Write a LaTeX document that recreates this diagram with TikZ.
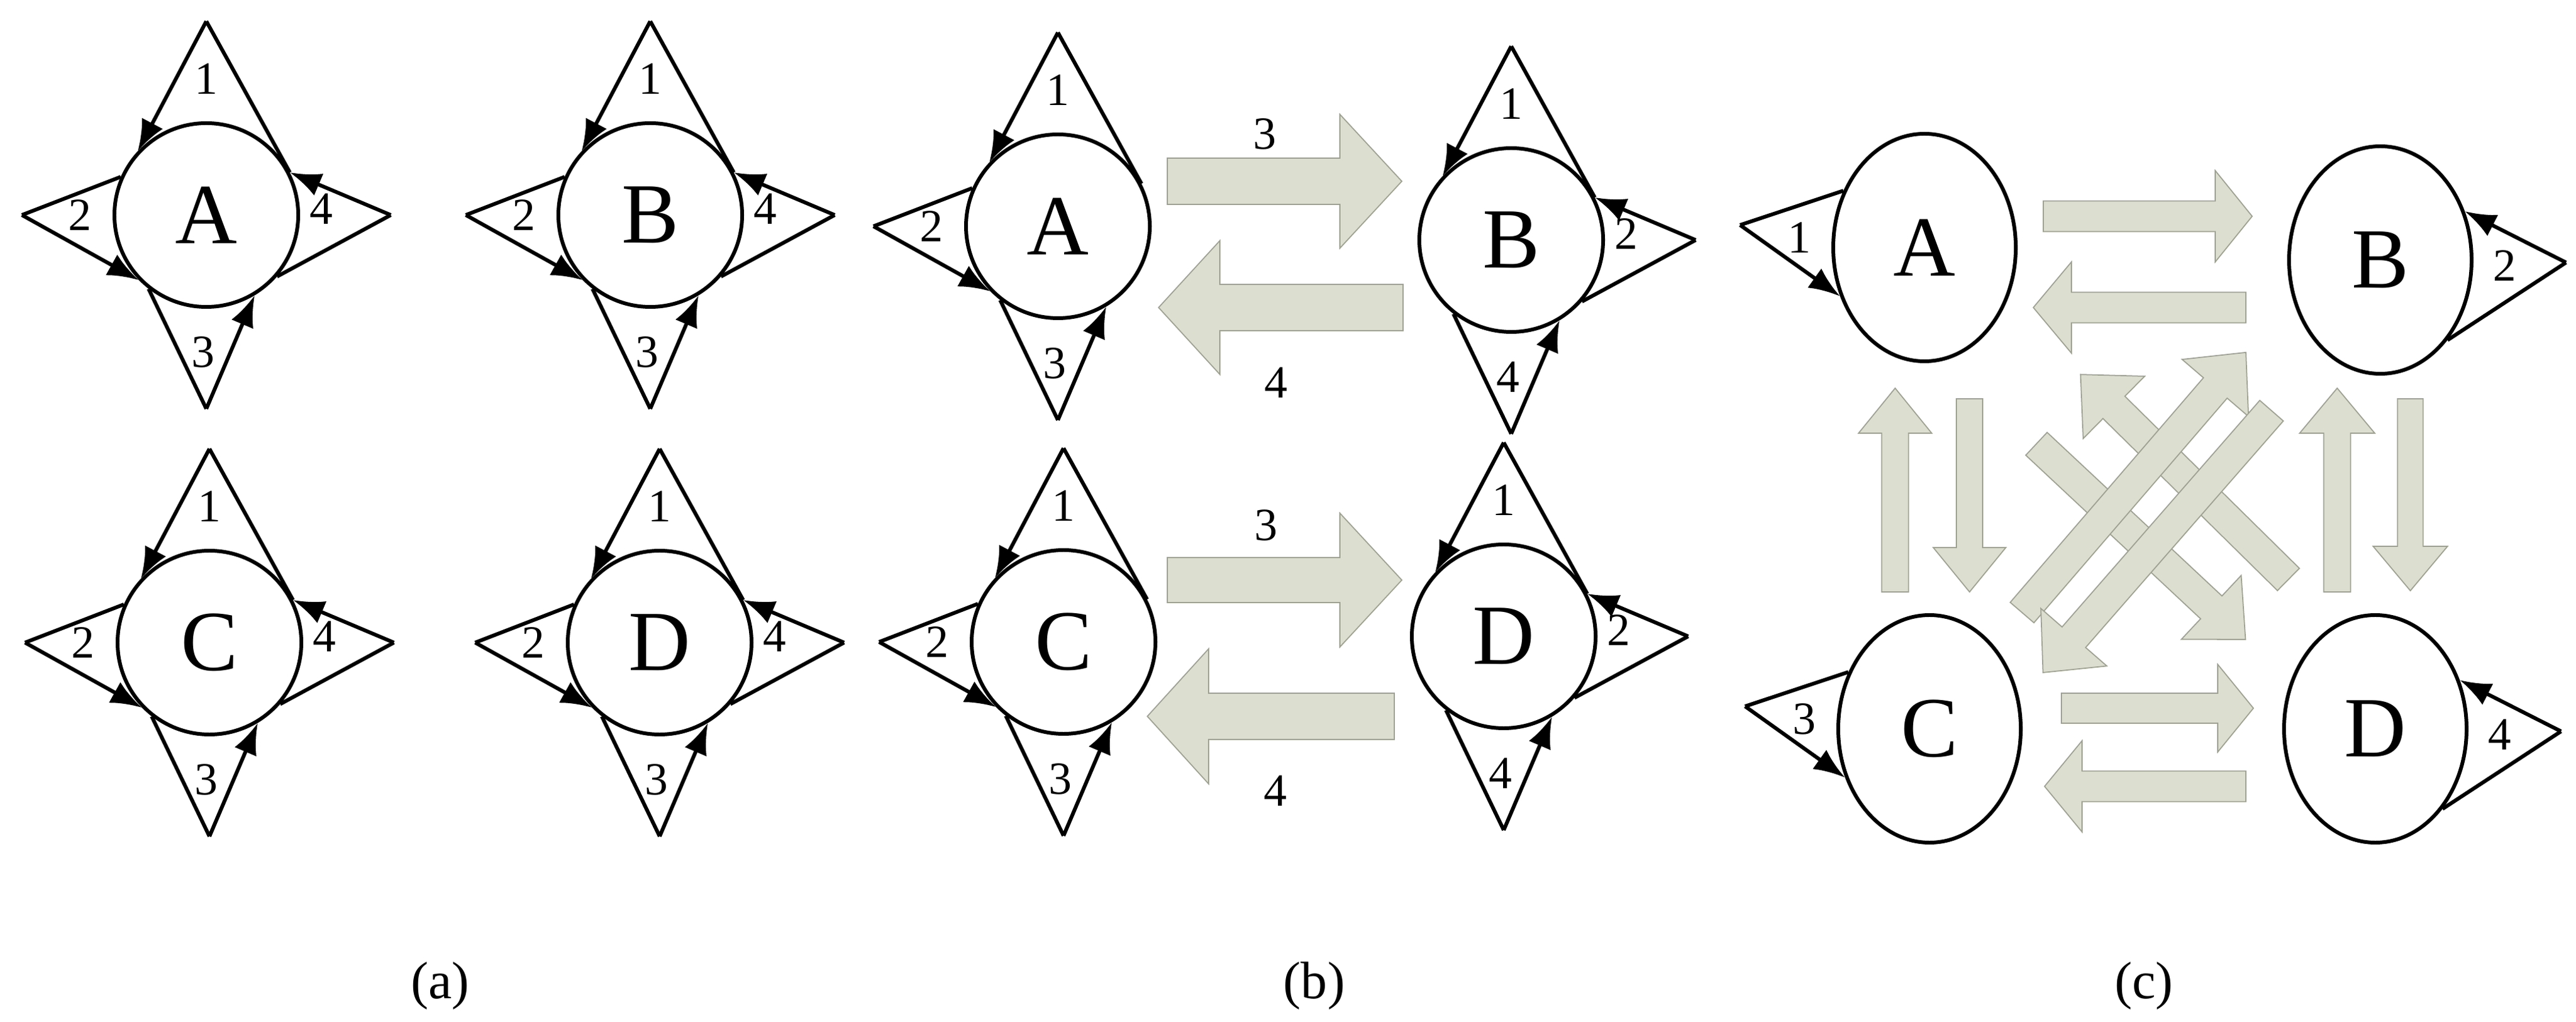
\documentclass[tikz,border=0pt]{standalone}
\usepackage{fontspec}
\setmainfont{Liberation Serif}
\newfontfamily\figfont{Liberation Serif}
\usetikzlibrary{arrows.meta,shapes.geometric}
\definecolor{flowfill}{HTML}{DCDFCF}
\definecolor{flowedge}{HTML}{9FA293}
\tikzset{
  state/.style={circle, draw, line width=1.7pt, minimum size=2.94cm, inner sep=0pt, font=\figfont\fontsize{39}{40}\selectfont},
  ostate/.style={ellipse, draw, line width=1.7pt, minimum width=2.92cm, minimum height=3.64cm, inner sep=0pt, font=\figfont\fontsize{39}{40}\selectfont},
  edge/.style={line width=1.7pt},
  into/.style={edge, -{Latex[length=5mm,width=3.8mm]}},
  num/.style={font=\figfont\fontsize{21}{22}\selectfont},
  flow/.style={fill=flowfill, draw=flowedge, line width=0.5pt}
}
% triangles around a state
\newcommand\toptri[2]{\coordinate (#1-t) at ([yshift=3.1cm]#1.center);
  \draw[into] (#1-t) -- (#1.137); \draw[edge] (#1-t) -- (#1.27);
  \node[num] at ([yshift=2.18cm]#1.center) {#2};}
\newcommand\lefttri[2]{\coordinate (#1-l) at ([xshift=-2.95cm]#1.center);
  \draw[into] (#1-l) -- (#1.-136); \draw[edge] (#1-l) -- (#1.156);
  \node[num] at ([xshift=-2.02cm]#1.center) {#2};}
\newcommand\righttri[2]{\coordinate (#1-r) at ([xshift=2.95cm]#1.center);
  \draw[into] (#1-r) -- (#1.27); \draw[edge] (#1-r) -- (#1.-41);
  \node[num] at ([shift={(1.84,0.1)}]#1.center) {#2};}
\newcommand\bottri[2]{\coordinate (#1-b) at ([yshift=-3.1cm]#1.center);
  \draw[into] (#1-b) -- (#1.-59); \draw[edge] (#1-b) -- (#1.-128);
  \node[num] at ([shift={(-0.05,-2.19)}]#1.center) {#2};}
% self loops of panel (c)
\newcommand\loopL[2]{\coordinate (#1-l) at ([shift={(-2.95,0.36)}]#1.center);
  \draw[into] (#1-l) -- (#1.210); \draw[edge] (#1-l) -- (#1.145);
  \node[num] at ([shift={(-2.0,0.16)}]#1.center) {#2};}
\newcommand\loopR[2]{\coordinate (#1-r) at ([shift={(2.97,-0.04)}]#1.center);
  \draw[into] (#1-r) -- (#1.30); \draw[edge] (#1-r) -- (#1.-50);
  \node[num] at ([shift={(1.99,-0.09)}]#1.center) {#2};}
% block arrow: x, y, angle, length, shaft half, head half, head length
\newcommand\flowarrow[7]{\begin{scope}[shift={(#1,#2)}, rotate=#3]
  \filldraw[flow] (0,-#5) -- ({#4-#7},-#5) -- ({#4-#7},-#6) -- (#4,0)
    -- ({#4-#7},#6) -- ({#4-#7},#5) -- (0,#5) -- cycle;
  \end{scope}}

\begin{document}
\begin{tikzpicture}
\useasboundingbox (0,0) rectangle (41.2,-16.35);

% (a)
\node[state] (aA) at (3.30,-3.44) {A};
\node[state] (aB) at (10.40,-3.44) {B};
\node[state] (aC) at (3.35,-10.28) {C};
\node[state] (aD) at (10.55,-10.28) {D};
\foreach \n in {aA,aB,aC,aD}{
  \toptri{\n}{1} \lefttri{\n}{2} \righttri{\n}{4} \bottri{\n}{3}
}

% (b)
\node[state] (bA) at (16.92,-3.62) {A};
\node[state] (bB) at (24.17,-3.84) {B};
\node[state] (bC) at (17.01,-10.27) {C};
\node[state] (bD) at (24.05,-10.18) {D};
\foreach \n in {bA,bC}{\toptri{\n}{1} \lefttri{\n}{2} \bottri{\n}{3}}
\foreach \n in {bB,bD}{\toptri{\n}{1} \righttri{\n}{2} \bottri{\n}{4}}
\flowarrow{18.67}{-2.90}{0}{3.75}{0.37}{1.07}{0.99}
\flowarrow{22.44}{-4.92}{180}{3.91}{0.37}{1.07}{0.98}
\flowarrow{18.67}{-9.28}{0}{3.75}{0.36}{1.07}{0.99}
\flowarrow{22.30}{-11.46}{180}{3.95}{0.37}{1.08}{0.98}
\node[num] (b3u) at (20.23,-2.14) {3};
\node[num] (b4u) at (20.41,-6.12) {4};
\node[num] (b3d) at (20.25,-8.40) {3};
\node[num] (b4d) at (20.40,-12.65) {4};

% (c)
\node[ostate] (cA) at (30.78,-3.96) {A};
\node[ostate] (cB) at (38.07,-4.16) {B};
\node[ostate] (cC) at (30.86,-11.66) {C};
\node[ostate] (cD) at (37.99,-11.66) {D};
\loopL{cA}{1} \loopR{cB}{2} \loopL{cC}{3} \loopR{cD}{4}
\flowarrow{32.68}{-3.46}{0}{3.34}{0.245}{0.73}{0.59}
\flowarrow{35.92}{-4.92}{180}{3.40}{0.245}{0.73}{0.61}
\flowarrow{32.97}{-11.33}{0}{3.07}{0.24}{0.70}{0.57}
\flowarrow{35.92}{-12.58}{180}{3.22}{0.245}{0.73}{0.60}
\flowarrow{30.31}{-9.47}{90}{3.26}{0.215}{0.585}{0.72}
\flowarrow{31.50}{-6.38}{-90}{3.09}{0.21}{0.58}{0.71}
\flowarrow{37.38}{-9.47}{90}{3.26}{0.215}{0.60}{0.72}
\flowarrow{38.55}{-6.38}{-90}{3.07}{0.205}{0.595}{0.71}
\flowarrow{32.57}{-7.10}{-43.1}{4.58}{0.25}{0.70}{0.75}
\flowarrow{36.60}{-9.27}{135.4}{4.67}{0.25}{0.70}{0.75}
\flowarrow{32.34}{-9.80}{49.3}{5.49}{0.25}{0.70}{0.75}
\flowarrow{36.33}{-6.57}{228.9}{5.56}{0.25}{0.70}{0.75}

% captions
\node[font=\figfont\fontsize{24}{26}\selectfont] (capa) at (7.04,-15.77) {(a)};
\node[font=\figfont\fontsize{24}{26}\selectfont] (capb) at (21.02,-15.77) {(b)};
\node[font=\figfont\fontsize{24}{26}\selectfont] (capc) at (34.29,-15.77) {(c)};
\end{tikzpicture}
\end{document}
